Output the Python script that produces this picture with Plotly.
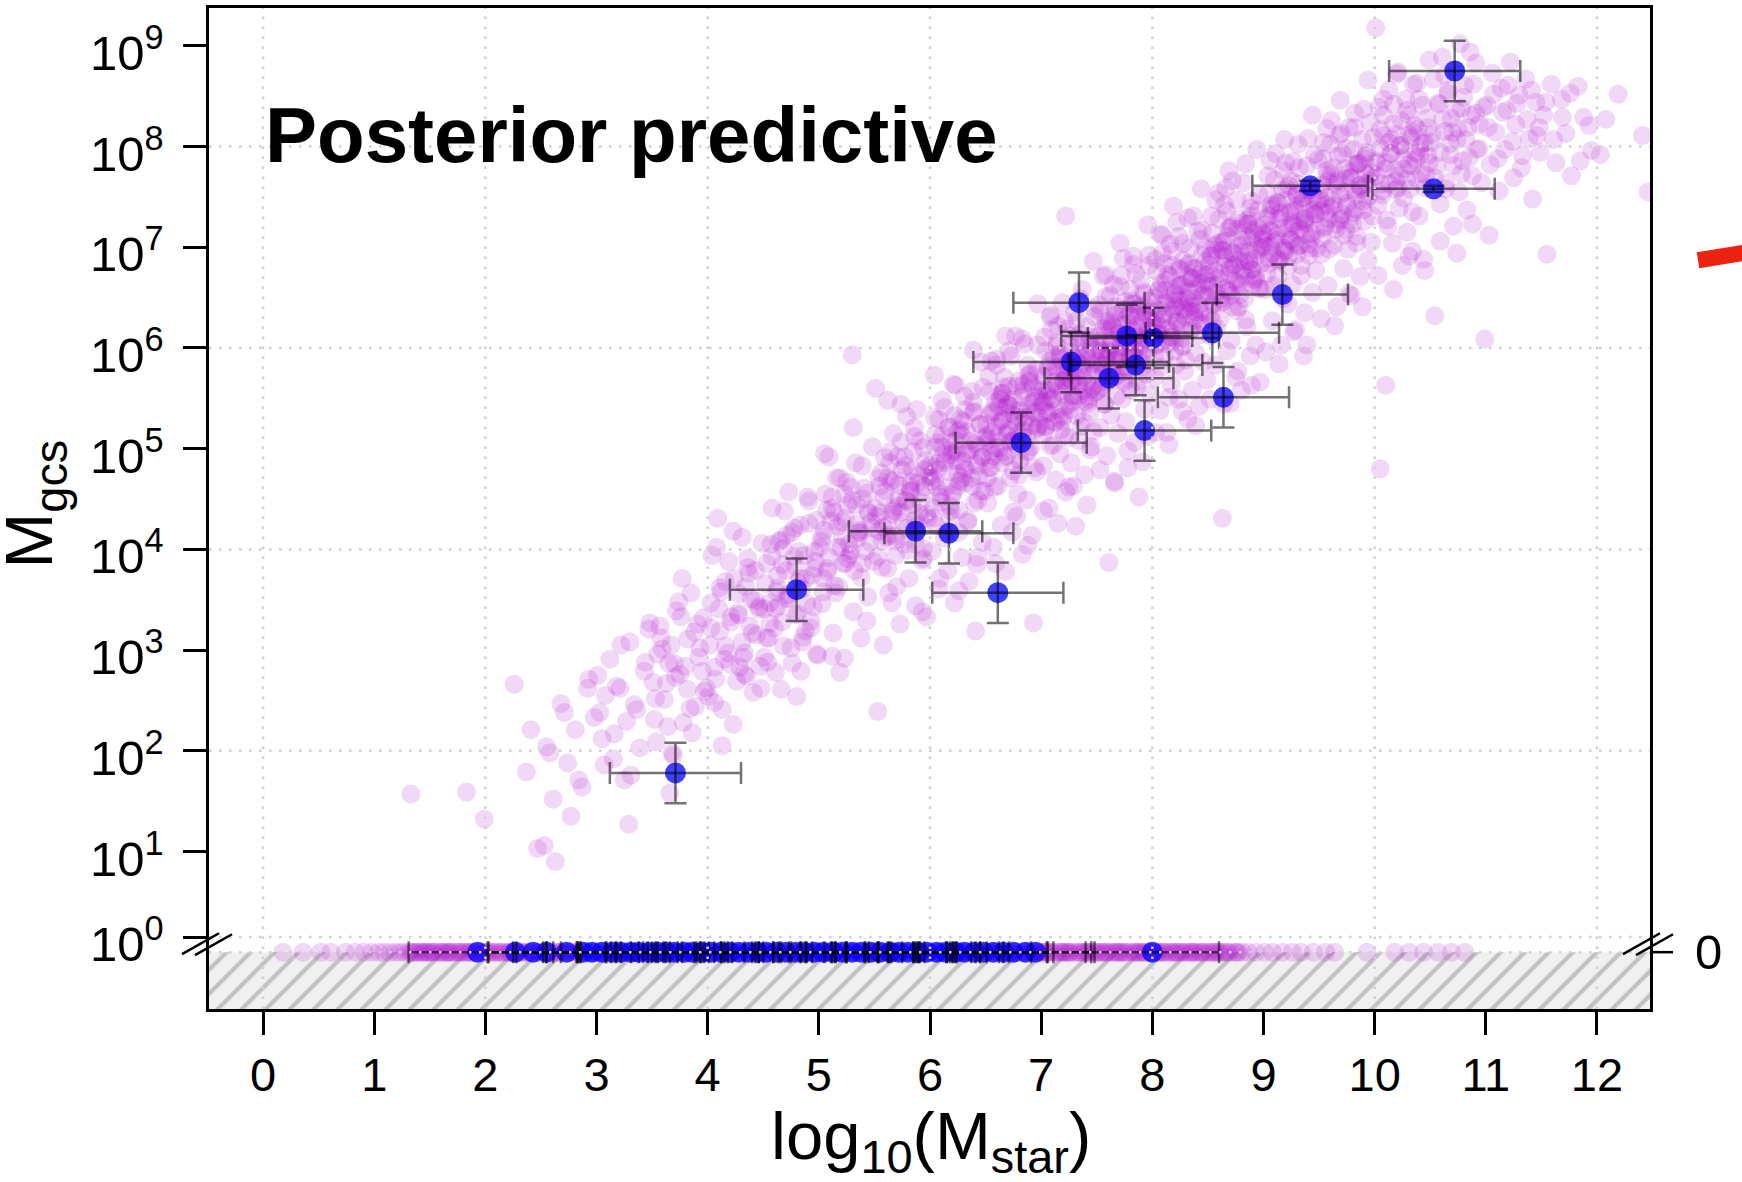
import numpy as np
import plotly.graph_objects as go

# ---------------------------------------------------------------------------
# Posterior predictive draws with M_gcs > 0  (log10 M_star, log10 M_gcs)
# ---------------------------------------------------------------------------
pp_log_mstar = [
    1.33,
    1.83, 1.99,
    2.26, 2.37, 2.47, 2.41,
    2.53, 2.63, 2.71, 2.84, 2.92, 2.58, 2.77,
    3.01, 3.08, 3.15, 3.22, 3.29, 3.36, 3.44, 3.05, 3.18, 3.31, 3.47,
    3.52, 3.58, 3.63, 3.69, 3.74, 3.80, 3.86, 3.91, 3.97, 3.55, 3.66, 3.77, 3.84, 3.93, 3.71,
    4.02, 4.06, 4.11, 4.15, 4.19, 4.23, 4.27, 4.31, 4.35, 4.39, 4.44, 4.48, 4.04, 4.13, 4.21, 4.29, 4.37, 4.46, 4.09, 4.33,
    4.51, 4.54, 4.57, 4.60, 4.63, 4.66, 4.69, 4.72, 4.75, 4.78, 4.81, 4.84, 4.87, 4.90, 4.93, 4.96, 4.99, 4.53, 4.62, 4.71, 4.80, 4.89, 4.98, 4.67, 4.85,
    5.01, 5.03, 5.06, 5.08, 5.11, 5.13, 5.16, 5.18, 5.21, 5.23, 5.26, 5.28, 5.31, 5.33, 5.36, 5.38, 5.41, 5.43, 5.46, 5.48, 5.04, 5.14, 5.24, 5.34, 5.44, 5.09, 5.19, 5.29, 5.39, 5.30,
    5.51, 5.53, 5.55, 5.57, 5.59, 5.61, 5.63, 5.65, 5.67, 5.69, 5.71, 5.73, 5.75, 5.77, 5.79, 5.81, 5.83, 5.85, 5.87, 5.89, 5.91, 5.93, 5.95, 5.97, 5.99, 5.54, 5.62, 5.70, 5.78, 5.86, 5.94, 5.58, 5.74, 5.90,
    6.01, 6.02, 6.04, 6.05, 6.07, 6.08, 6.10, 6.11, 6.13, 6.14, 6.16, 6.17, 6.19, 6.20, 6.22, 6.23, 6.25, 6.26, 6.28, 6.29, 6.31, 6.32, 6.34, 6.35, 6.37, 6.38, 6.40, 6.41, 6.43, 6.44, 6.46, 6.47, 6.49, 6.06, 6.18, 6.30, 6.42, 6.27,
    6.51, 6.52, 6.53, 6.55, 6.56, 6.57, 6.59, 6.60, 6.61, 6.63, 6.64, 6.65, 6.67, 6.68, 6.69, 6.71, 6.72, 6.73, 6.75, 6.76, 6.77, 6.79, 6.80, 6.81, 6.83, 6.84, 6.85, 6.87, 6.88, 6.89, 6.91, 6.92, 6.93, 6.95, 6.96, 6.97, 6.99, 6.54, 6.66, 6.78, 6.90, 6.70,
    7.01, 7.02, 7.03, 7.04, 7.06, 7.07, 7.08, 7.09, 7.11, 7.12, 7.13, 7.14, 7.16, 7.17, 7.18, 7.19, 7.21, 7.22, 7.23, 7.24, 7.26, 7.27, 7.28, 7.29, 7.31, 7.32, 7.33, 7.34, 7.36, 7.37, 7.38, 7.39, 7.41, 7.42, 7.43, 7.44, 7.46, 7.47, 7.48, 7.49, 7.05, 7.15, 7.25, 7.35, 7.45, 7.20,
    7.51, 7.52, 7.53, 7.54, 7.55, 7.56, 7.57, 7.58, 7.59, 7.61, 7.62, 7.63, 7.64, 7.65, 7.66, 7.67, 7.68, 7.69, 7.71, 7.72, 7.73, 7.74, 7.75, 7.76, 7.77, 7.78, 7.79, 7.81, 7.82, 7.83, 7.84, 7.85, 7.86, 7.87, 7.88, 7.89, 7.91, 7.92, 7.93, 7.94, 7.95, 7.96, 7.97, 7.98, 7.99, 7.60, 7.70, 7.80, 7.61,
    8.01, 8.02, 8.03, 8.04, 8.06, 8.07, 8.08, 8.09, 8.11, 8.12, 8.13, 8.14, 8.16, 8.17, 8.18, 8.19, 8.21, 8.22, 8.23, 8.24, 8.26, 8.27, 8.28, 8.29, 8.31, 8.32, 8.33, 8.34, 8.36, 8.37, 8.38, 8.39, 8.41, 8.42, 8.43, 8.44, 8.46, 8.47, 8.48, 8.49, 8.05, 8.15, 8.25, 8.35, 8.45, 8.20,
    8.51, 8.52, 8.53, 8.55, 8.56, 8.57, 8.59, 8.60, 8.61, 8.63, 8.64, 8.65, 8.67, 8.68, 8.69, 8.71, 8.72, 8.73, 8.75, 8.76, 8.77, 8.79, 8.80, 8.81, 8.83, 8.84, 8.85, 8.87, 8.88, 8.89, 8.91, 8.92, 8.93, 8.95, 8.96, 8.97, 8.99, 8.54, 8.66, 8.78, 8.90, 8.70, 8.63, 8.86,
    9.01, 9.02, 9.04, 9.05, 9.07, 9.08, 9.10, 9.11, 9.13, 9.14, 9.16, 9.17, 9.19, 9.20, 9.22, 9.23, 9.25, 9.26, 9.28, 9.29, 9.31, 9.32, 9.34, 9.35, 9.37, 9.38, 9.40, 9.41, 9.43, 9.44, 9.46, 9.47, 9.49, 9.06, 9.18, 9.30, 9.42, 9.12, 9.36, 9.24,
    9.51, 9.52, 9.54, 9.55, 9.57, 9.58, 9.60, 9.61, 9.63, 9.64, 9.66, 9.67, 9.69, 9.70, 9.72, 9.73, 9.75, 9.76, 9.78, 9.79, 9.81, 9.82, 9.84, 9.85, 9.87, 9.88, 9.90, 9.91, 9.93, 9.94, 9.96, 9.97, 9.99, 9.56, 9.74, 9.92,
    10.01, 10.02, 10.04, 10.05, 10.07, 10.08, 10.10, 10.11, 10.13, 10.14, 10.16, 10.17, 10.19, 10.20, 10.22, 10.23, 10.25, 10.26, 10.28, 10.29, 10.31, 10.32, 10.34, 10.35, 10.37, 10.38, 10.40, 10.41, 10.43, 10.44, 10.46, 10.48,
    10.51, 10.53, 10.54, 10.56, 10.58, 10.59, 10.61, 10.63, 10.64, 10.66, 10.68, 10.69, 10.71, 10.73, 10.74, 10.76, 10.78, 10.79, 10.81, 10.83, 10.84, 10.86, 10.88, 10.91, 10.94, 10.99,
    11.01, 11.04, 11.06, 11.09, 11.12, 11.14, 11.17, 11.19, 11.22, 11.25, 11.27, 11.30, 11.33, 11.36, 11.39, 11.42, 11.45, 11.48,
    11.52, 11.55, 11.59, 11.63, 11.68, 11.72, 11.77, 11.83, 11.88, 11.95,
    12.03, 12.08, 12.19, 12.41, 12.46,
    # denser core of the predictive band
    3.53, 3.59, 3.64, 3.70, 3.76, 3.82, 3.88, 3.95,
    4.03, 4.07, 4.12, 4.16, 4.20, 4.24, 4.28, 4.32, 4.36, 4.40, 4.43, 4.47, 4.10, 4.34,
    4.52, 4.55, 4.58, 4.61, 4.64, 4.67, 4.70, 4.73, 4.76, 4.79, 4.82, 4.85, 4.88, 4.91, 4.94, 4.97, 4.56, 4.68, 4.83, 4.95,
    5.02, 5.04, 5.07, 5.09, 5.12, 5.14, 5.17, 5.19, 5.22, 5.24, 5.27, 5.29, 5.32, 5.34, 5.37, 5.39, 5.42, 5.44, 5.47, 5.49, 5.05, 5.15, 5.25, 5.35, 5.45, 5.20,
    5.51, 5.53, 5.56, 5.58, 5.60, 5.62, 5.64, 5.66, 5.68, 5.70, 5.72, 5.74, 5.76, 5.78, 5.80, 5.82, 5.84, 5.86, 5.88, 5.90, 5.92, 5.94, 5.96, 5.98, 5.55, 5.63, 5.71, 5.79, 5.87, 5.95, 5.67, 5.83,
    6.01, 6.03, 6.05, 6.06, 6.08, 6.10, 6.12, 6.13, 6.15, 6.17, 6.19, 6.20, 6.22, 6.24, 6.26, 6.27, 6.29, 6.31, 6.33, 6.34, 6.36, 6.38, 6.40, 6.41, 6.43, 6.45, 6.47, 6.48, 6.04, 6.11, 6.18, 6.25, 6.32, 6.39, 6.46, 6.21,
    6.51, 6.52, 6.54, 6.55, 6.57, 6.58, 6.60, 6.61, 6.63, 6.64, 6.66, 6.67, 6.69, 6.70, 6.72, 6.73, 6.75, 6.76, 6.78, 6.79, 6.81, 6.82, 6.84, 6.85, 6.87, 6.88, 6.90, 6.91, 6.93, 6.94, 6.96, 6.97, 6.99, 6.53, 6.62, 6.71, 6.80, 6.89, 6.98, 6.65,
    7.01, 7.02, 7.04, 7.05, 7.06, 7.08, 7.09, 7.10, 7.12, 7.13, 7.14, 7.16, 7.17, 7.18, 7.20, 7.21, 7.22, 7.24, 7.25, 7.26, 7.28, 7.29, 7.30, 7.32, 7.33, 7.34, 7.36, 7.37, 7.38, 7.40, 7.41, 7.42, 7.44, 7.45, 7.46, 7.48, 7.49, 7.03, 7.11, 7.19, 7.27, 7.35, 7.43, 7.23,
    7.51, 7.52, 7.53, 7.55, 7.56, 7.57, 7.58, 7.60, 7.61, 7.62, 7.63, 7.65, 7.66, 7.67, 7.68, 7.70, 7.71, 7.72, 7.73, 7.75, 7.76, 7.77, 7.78, 7.80, 7.81, 7.82, 7.83, 7.85, 7.86, 7.87, 7.88, 7.90, 7.91, 7.92, 7.93, 7.95, 7.96, 7.97, 7.98, 7.54, 7.64, 7.74, 7.84, 7.94, 7.59, 7.79,
    8.01, 8.02, 8.04, 8.05, 8.06, 8.08, 8.09, 8.10, 8.12, 8.13, 8.14, 8.16, 8.17, 8.18, 8.20, 8.21, 8.22, 8.24, 8.25, 8.26, 8.28, 8.29, 8.30, 8.32, 8.33, 8.34, 8.36, 8.37, 8.38, 8.40, 8.41, 8.42, 8.44, 8.45, 8.46, 8.48, 8.49, 8.03, 8.11, 8.19, 8.27, 8.35, 8.43, 8.23,
    8.51, 8.52, 8.54, 8.55, 8.57, 8.58, 8.60, 8.61, 8.63, 8.64, 8.66, 8.67, 8.69, 8.70, 8.72, 8.73, 8.75, 8.76, 8.78, 8.79, 8.81, 8.82, 8.84, 8.85, 8.87, 8.88, 8.90, 8.91, 8.93, 8.94, 8.96, 8.97, 8.99, 8.53, 8.62, 8.71, 8.80, 8.89, 8.98, 8.65, 8.77, 8.86,
    9.01, 9.03, 9.04, 9.06, 9.07, 9.09, 9.10, 9.12, 9.13, 9.15, 9.16, 9.18, 9.19, 9.21, 9.22, 9.24, 9.25, 9.27, 9.28, 9.30, 9.31, 9.33, 9.34, 9.36, 9.37, 9.39, 9.40, 9.42, 9.43, 9.45, 9.46, 9.48, 9.49, 9.05, 9.14, 9.23, 9.32, 9.41,
    9.51, 9.53, 9.54, 9.56, 9.57, 9.59, 9.60, 9.62, 9.63, 9.65, 9.66, 9.68, 9.69, 9.71, 9.72, 9.74, 9.75, 9.77, 9.78, 9.80, 9.81, 9.83, 9.84, 9.86, 9.87, 9.89, 9.90, 9.92, 9.93, 9.95, 9.96, 9.98, 9.58, 9.82,
    10.01, 10.03, 10.05, 10.06, 10.08, 10.10, 10.12, 10.13, 10.15, 10.17, 10.19, 10.20, 10.22, 10.24, 10.26, 10.27, 10.29, 10.31, 10.33, 10.34, 10.36, 10.38, 10.40, 10.41, 10.43, 10.45, 10.47, 10.49,
    10.52, 10.54, 10.57, 10.59, 10.61, 10.64, 10.66, 10.68, 10.71, 10.73, 10.75, 10.78, 10.80, 10.82, 10.85, 10.87, 10.89, 10.92, 10.94, 10.96, 10.98, 10.70,
    11.02, 11.07, 11.11, 11.15, 11.20, 11.24, 11.28, 11.32, 11.37, 11.41, 11.46, 11.49,
    11.54, 11.61, 11.69, 11.76, 11.85, 11.93,
    # ridge of the band
    5.03, 5.08, 5.12, 5.17, 5.21, 5.26, 5.30, 5.35, 5.39, 5.44, 5.48, 5.23,
    5.52, 5.54, 5.57, 5.59, 5.62, 5.64, 5.67, 5.69, 5.72, 5.74, 5.77, 5.79, 5.82, 5.84, 5.87, 5.89, 5.92, 5.94, 5.97, 5.99,
    6.01, 6.03, 6.05, 6.07, 6.09, 6.11, 6.13, 6.15, 6.17, 6.19, 6.21, 6.23, 6.25, 6.27, 6.29, 6.31, 6.33, 6.35, 6.37, 6.39, 6.41, 6.43, 6.45, 6.47, 6.49, 6.24,
    6.51, 6.53, 6.54, 6.56, 6.57, 6.59, 6.60, 6.62, 6.63, 6.65, 6.66, 6.68, 6.69, 6.71, 6.72, 6.74, 6.75, 6.77, 6.78, 6.80, 6.81, 6.83, 6.84, 6.86, 6.87, 6.89, 6.90, 6.92, 6.93, 6.95, 6.96, 6.98,
    7.01, 7.02, 7.04, 7.05, 7.07, 7.08, 7.10, 7.11, 7.13, 7.14, 7.16, 7.17, 7.19, 7.20, 7.22, 7.23, 7.25, 7.26, 7.28, 7.29, 7.31, 7.32, 7.34, 7.35, 7.37, 7.38, 7.40, 7.41, 7.43, 7.44, 7.46, 7.47, 7.49, 7.06, 7.21, 7.36,
    7.51, 7.52, 7.54, 7.55, 7.56, 7.58, 7.59, 7.60, 7.62, 7.63, 7.64, 7.66, 7.67, 7.68, 7.70, 7.71, 7.72, 7.74, 7.75, 7.76, 7.78, 7.79, 7.80, 7.82, 7.83, 7.84, 7.86, 7.87, 7.88, 7.90, 7.91, 7.92, 7.94, 7.95, 7.96, 7.98, 7.99, 7.77,
    8.01, 8.02, 8.04, 8.05, 8.06, 8.08, 8.09, 8.10, 8.12, 8.13, 8.14, 8.16, 8.17, 8.18, 8.20, 8.21, 8.22, 8.24, 8.25, 8.26, 8.28, 8.29, 8.30, 8.32, 8.33, 8.34, 8.36, 8.37, 8.38, 8.40, 8.41, 8.42, 8.44, 8.45, 8.46, 8.48, 8.49, 8.27,
    8.51, 8.53, 8.54, 8.56, 8.57, 8.59, 8.60, 8.62, 8.63, 8.65, 8.66, 8.68, 8.69, 8.71, 8.72, 8.74, 8.75, 8.77, 8.78, 8.80, 8.81, 8.83, 8.84, 8.86, 8.87, 8.89, 8.90, 8.92, 8.93, 8.95, 8.96, 8.98, 8.99, 8.70,
    9.02, 9.03, 9.05, 9.07, 9.08, 9.10, 9.12, 9.13, 9.15, 9.17, 9.18, 9.20, 9.22, 9.23, 9.25, 9.27, 9.28, 9.30, 9.32, 9.33, 9.35, 9.37, 9.38, 9.40, 9.42, 9.43, 9.45, 9.47, 9.48, 9.26,
    9.51, 9.53, 9.55, 9.57, 9.59, 9.61, 9.63, 9.65, 9.67, 9.69, 9.71, 9.73, 9.75, 9.77, 9.79, 9.81, 9.83, 9.85, 9.87, 9.89, 9.91, 9.93, 9.95, 9.97,
    10.02, 10.05, 10.07, 10.10, 10.13, 10.15, 10.18, 10.21, 10.23, 10.26, 10.29, 10.31, 10.34, 10.37, 10.39, 10.42, 10.45, 10.48,
    # low-mass end of the band
    2.55, 2.61, 2.68, 2.74, 2.81, 2.87, 2.93, 2.98,
    3.03, 3.07, 3.12, 3.16, 3.21, 3.25, 3.30, 3.34, 3.39, 3.43, 3.48, 3.27,
    3.51, 3.54, 3.57, 3.61, 3.65, 3.68, 3.72, 3.75, 3.78, 3.82, 3.85, 3.89, 3.92, 3.96, 3.99, 3.67,
    4.01, 4.03, 4.06, 4.08, 4.11, 4.13, 4.16, 4.18, 4.21, 4.23, 4.26, 4.28, 4.31, 4.33, 4.36, 4.38, 4.41, 4.43, 4.46, 4.49,
    4.51, 4.53, 4.56, 4.58, 4.61, 4.63, 4.66, 4.68, 4.71, 4.73, 4.76, 4.78, 4.81, 4.83, 4.86, 4.88, 4.91, 4.93, 4.96, 4.98, 4.64, 4.79,
    # upper and lower flanks of the band
    5.05, 5.31, 5.62, 5.88, 6.04, 6.21, 6.39, 6.55, 6.68, 6.83, 6.97, 7.08, 7.22, 7.35, 7.47, 7.58, 7.71, 7.83, 7.96, 8.07,
    8.19, 8.32, 8.44, 8.57, 8.69, 8.82, 8.94, 9.06, 9.19, 9.31, 9.44, 9.57, 9.69, 9.82, 9.94, 10.08, 10.21, 10.35, 10.49, 10.63,
    10.77, 10.91,
    5.12, 5.38, 5.66, 5.93, 6.09, 6.26, 6.43, 6.59, 6.74, 6.88, 7.02, 7.15, 7.29, 7.41, 7.53, 7.66, 7.78, 7.91, 8.03, 8.15,
    8.27, 8.39, 8.52, 8.64, 8.77, 8.89, 9.02, 9.14, 9.27, 9.39, 9.52, 9.64, 9.77, 9.89, 10.03, 10.17, 10.31, 10.45, 10.59, 10.74,
    10.88, 11.03,
]
pp_log_mgcs = [
    1.57,
    1.59, 1.32,
    2.66, 1.79, 1.03, 2.21,
    1.06, 0.90, 2.38, 1.71, 2.62, 1.98, 1.35,
    2.75, 2.55, 1.92, 3.05, 1.27, 2.41, 2.88, 2.12, 2.64, 1.76, 3.21,
    2.31, 3.12, 2.67, 1.95, 3.48, 2.84, 2.18, 3.26, 2.59, 2.96, 1.58, 3.71, 2.42, 3.02, 2.73,
    3.05, 2.48, 3.62, 2.91, 3.88, 2.26, 3.37, 4.12, 2.74, 3.51, 3.15, 2.62, 3.94, 2.05, 3.28, 2.83, 3.76, 3.43, 4.31, 2.97,
    3.41, 2.88, 4.05, 3.22, 3.74, 2.61, 4.38, 3.55, 3.02, 4.21, 3.67, 2.79, 3.94, 4.52, 3.29, 3.81, 2.95, 3.12, 3.58, 4.14, 2.54, 3.46, 4.29, 3.85, 3.08,
    4.02, 3.46, 4.55, 3.81, 4.28, 3.17, 4.71, 3.63, 4.13, 2.92, 4.44, 3.95, 3.38, 4.86, 4.19, 3.72, 4.61, 3.29, 4.07, 5.02, 3.58, 4.37, 3.86, 4.25, 3.53, 4.92, 2.78, 3.99, 4.50, 5.93,
    5.60, 2.39, 4.36, 3.82, 4.91, 4.12, 3.57, 4.68, 5.15, 3.94, 4.43, 3.26, 4.79, 4.05, 5.32, 3.71, 4.58, 4.97, 3.44, 4.24, 5.08, 3.89, 4.62, 3.33, 4.83, 4.18, 4.71, 3.63, 4.49, 5.21, 4.01, 3.05, 5.44, 4.36,
    4.72, 3.98, 5.31, 4.24, 5.06, 3.61, 4.55, 5.48, 4.11, 4.89, 3.79, 5.22, 4.38, 4.96, 3.47, 5.63, 4.63, 4.17, 5.14, 3.92, 4.81, 5.39, 4.29, 3.68, 4.99, 5.57, 4.46, 3.19, 5.02, 4.73, 5.86, 4.07, 4.58, 4.85, 4.32, 5.27, 3.85, 4.68,
    5.13, 4.46, 5.72, 4.81, 5.38, 4.02, 5.01, 5.89, 4.63, 5.27, 4.24, 5.55, 4.92, 3.78, 5.16, 5.97, 4.71, 5.42, 4.37, 5.08, 6.12, 4.55, 5.31, 4.86, 3.95, 5.64, 5.19, 4.49, 5.83, 4.98, 5.36, 4.14, 3.27, 5.51, 4.77, 6.03, 5.24, 4.89, 5.61, 4.33, 5.75, 5.44,
    5.47, 4.83, 6.11, 5.22, 5.79, 4.41, 5.58, 6.33, 5.04, 5.66, 4.69, 6.02, 5.31, 4.95, 5.88, 6.45, 5.13, 4.57, 5.71, 6.19, 5.39, 4.86, 5.96, 5.52, 4.23, 6.27, 5.63, 5.08, 5.84, 6.58, 5.27, 4.74, 5.93, 5.45, 6.08, 4.99, 5.74, 5.17, 6.39, 5.56, 5.35, 6.22, 4.62, 5.91, 5.02, 5.68,
    5.86, 6.43, 5.21, 6.07, 5.62, 6.71, 5.44, 6.18, 4.93, 5.97, 6.52, 5.33, 6.24, 5.71, 4.68, 6.36, 5.88, 5.15, 6.61, 6.02, 5.49, 6.89, 5.76, 5.27, 6.29, 4.81, 6.13, 5.58, 6.47, 5.93, 5.06, 6.74, 6.21, 5.67, 4.52, 6.05, 5.81, 6.56, 5.39, 6.33, 5.99, 5.12, 6.82, 5.54, 6.16, 5.73, 6.09, 5.91, 3.87,
    6.32, 5.71, 6.88, 6.04, 6.57, 5.38, 6.21, 7.12, 5.92, 6.45, 5.16, 6.73, 6.11, 5.64, 6.96, 6.38, 5.83, 7.25, 6.26, 5.49, 6.62, 6.01, 7.04, 5.77, 6.49, 5.29, 6.84, 6.17, 5.58, 7.31, 6.36, 5.95, 6.69, 5.42, 7.08, 6.24, 5.86, 6.53, 6.99, 5.68, 6.14, 5.51, 6.79, 6.41, 7.17, 6.06,
    6.74, 6.12, 7.31, 6.45, 7.02, 5.83, 6.63, 7.54, 6.29, 4.31, 6.91, 7.42, 5.97, 6.56, 7.19, 6.08, 7.66, 6.82, 5.71, 6.37, 7.28, 6.95, 5.58, 7.07, 6.49, 7.83, 6.21, 6.86, 5.92, 7.46, 6.68, 7.14, 6.03, 7.37, 6.59, 5.66, 7.01, 6.27, 7.59, 6.41, 6.78, 5.45, 6.97, 7.23,
    7.13, 6.58, 7.71, 6.89, 7.42, 6.27, 7.05, 7.93, 6.71, 7.28, 6.03, 7.57, 6.96, 7.84, 6.44, 7.19, 7.66, 6.63, 7.36, 6.18, 7.01, 7.79, 6.82, 7.49, 6.35, 7.24, 8.08, 6.92, 7.61, 6.55, 7.33, 6.77, 7.87, 7.17, 6.49, 7.53, 6.99, 7.45, 5.92, 7.08,
    7.48, 6.93, 8.04, 7.21, 7.76, 6.62, 7.39, 8.26, 7.02, 7.64, 6.41, 7.91, 7.27, 8.13, 6.79, 7.55, 7.98, 6.98, 7.69, 6.52, 7.34, 8.19, 7.11, 7.83, 6.71, 7.58, 8.37, 7.26, 7.94, 6.87, 7.66, 7.05, 8.09, 7.42, 7.17, 7.73,
    9.18, 7.84, 8.39, 4.80, 7.52, 8.11, 5.63, 7.27, 8.56, 7.93, 7.04, 8.23, 7.66, 8.72, 7.39, 8.01, 6.82, 7.78, 8.47, 7.15, 8.31, 7.58, 6.96, 8.14, 7.87, 8.63, 7.31, 7.99, 8.41, 6.88, 7.72, 8.19,
    8.04, 8.67, 6.32, 7.81, 8.42, 7.43, 8.89, 8.15, 7.64, 8.53, 7.92, 8.28, 7.21, 8.76, 8.07, 7.55, 8.38, 7.86, 8.61, 7.37, 8.19, 8.94, 7.71, 8.33, 7.98, 6.09,
    8.41, 7.82, 8.73, 8.14, 7.56, 8.58, 7.97, 8.36, 8.84, 7.69, 8.22, 8.51, 7.91, 8.67, 8.08, 7.48, 8.44, 8.19,
    8.31, 6.93, 8.62, 7.84, 8.47, 8.13, 7.71, 8.60, 8.29, 7.96,
    7.92, 8.27, 8.52, 8.11, 7.55,
    # denser core of the predictive band
    2.52, 3.01, 2.24, 2.87, 3.33, 2.61, 3.18, 2.79,
    3.22, 2.71, 3.58, 3.04, 2.86, 3.71, 3.35, 2.93, 3.82, 3.17, 3.49, 2.84, 3.41, 3.63,
    3.66, 3.12, 3.93, 3.41, 4.08, 3.28, 3.79, 3.52, 4.17, 3.35, 3.98, 3.61, 3.19, 4.26, 3.74, 3.88, 3.47, 4.01, 3.71, 3.43,
    4.08, 3.71, 4.39, 3.92, 4.52, 3.64, 4.23, 4.71, 3.86, 4.31, 4.05, 4.62, 3.79, 4.44, 4.17, 4.83, 3.98, 4.56, 4.27, 3.88, 4.19, 3.57, 4.67, 4.11, 4.36, 4.02,
    4.41, 3.93, 4.76, 4.22, 4.58, 3.81, 4.97, 4.35, 4.69, 4.08, 4.51, 5.07, 4.27, 4.83, 3.99, 4.62, 4.44, 5.12, 4.19, 4.73, 4.56, 3.91, 4.88, 4.31, 4.63, 4.14, 4.92, 4.48, 4.05, 4.79, 4.38, 4.67,
    4.83, 4.31, 5.14, 4.62, 5.29, 4.47, 4.95, 5.41, 4.18, 4.77, 5.06, 4.54, 5.33, 4.88, 4.39, 5.19, 4.71, 5.52, 4.96, 4.27, 5.08, 4.63, 5.37, 4.85, 4.49, 5.24, 4.92, 5.61, 4.69, 5.02, 4.43, 5.17, 4.79, 5.46, 4.58, 4.99,
    5.24, 4.71, 5.57, 4.98, 5.36, 4.62, 5.83, 5.11, 5.49, 4.86, 5.28, 5.71, 4.93, 5.44, 5.07, 5.92, 4.78, 5.33, 5.62, 5.15, 4.89, 5.51, 5.26, 6.04, 4.97, 5.39, 5.68, 5.02, 5.47, 4.81, 5.79, 5.21, 5.58, 5.09, 5.42, 5.18, 4.74, 5.66, 5.31, 5.55,
    5.62, 5.14, 5.97, 5.38, 5.81, 5.03, 6.18, 5.49, 5.74, 5.26, 6.05, 5.57, 5.91, 5.19, 5.68, 6.27, 5.42, 5.86, 5.11, 6.12, 5.53, 5.79, 6.36, 5.33, 5.96, 5.64, 5.22, 6.08, 5.71, 5.47, 6.21, 5.88, 5.36, 6.01, 5.59, 6.31, 5.77, 5.46, 5.93, 5.28, 5.69, 6.14, 5.52, 5.83,
    6.02, 5.58, 6.36, 5.83, 6.19, 5.44, 6.51, 5.96, 6.27, 5.71, 6.08, 6.63, 5.87, 6.41, 5.52, 6.14, 5.92, 6.72, 6.23, 5.66, 6.46, 6.05, 5.79, 6.58, 6.31, 5.91, 6.83, 6.12, 5.61, 6.39, 6.01, 6.67, 5.85, 6.29, 6.54, 5.74, 6.17, 6.92, 6.37, 5.97, 6.22, 5.68, 6.44, 6.09, 5.89, 6.33,
    6.41, 5.93, 6.76, 6.22, 6.58, 5.81, 6.94, 6.33, 6.67, 6.04, 6.49, 7.03, 6.15, 6.82, 5.97, 6.55, 6.28, 7.11, 6.62, 6.09, 6.87, 6.38, 5.88, 6.71, 6.46, 6.99, 6.19, 6.79, 6.31, 6.57, 7.16, 6.13, 6.64, 6.92, 6.25, 6.73, 6.51, 6.26, 6.84, 6.47, 6.02, 6.69, 6.36, 6.61,
    6.83, 6.31, 7.14, 6.62, 6.97, 6.19, 7.28, 6.74, 7.05, 6.46, 6.88, 7.36, 6.57, 7.19, 6.41, 6.94, 6.68, 7.47, 7.01, 6.53, 7.24, 6.79, 6.28, 7.11, 6.86, 7.39, 6.63, 7.17, 6.71, 6.97, 7.52, 6.59, 7.08, 6.91, 6.45, 7.21, 6.77, 7.31, 6.99, 7.06, 6.64, 7.27,
    7.22, 6.74, 7.53, 7.01, 7.38, 6.62, 7.67, 7.12, 7.44, 6.88, 7.29, 7.76, 6.97, 7.58, 6.81, 7.34, 7.07, 7.85, 7.41, 6.93, 7.63, 7.19, 6.72, 7.49, 7.26, 7.81, 7.03, 7.57, 7.14, 7.37, 7.92, 6.99, 7.46, 7.31, 6.86, 7.61, 7.17, 7.43,
    7.57, 7.09, 7.88, 7.34, 7.71, 6.98, 8.02, 7.46, 7.79, 7.18, 7.62, 8.11, 7.29, 7.93, 7.12, 7.68, 7.41, 8.19, 7.75, 7.23, 7.97, 7.52, 7.04, 7.84, 7.61, 8.07, 7.37, 7.91, 7.48, 7.72, 8.24, 7.31, 7.66, 7.82,
    7.86, 7.42, 8.17, 7.63, 8.31, 7.78, 7.21, 8.04, 7.93, 8.42, 7.57, 8.12, 7.71, 8.26, 7.49, 7.97, 8.36, 7.82, 8.09, 7.35, 8.21, 7.68, 8.47, 7.91, 8.03, 7.59, 8.28, 7.84,
    8.12, 7.69, 8.43, 7.94, 8.27, 7.58, 8.56, 8.03, 7.81, 8.36, 8.18, 7.73, 8.49, 8.07, 7.89, 8.31, 8.62, 7.97, 8.22, 7.64, 8.39, 8.14,
    8.19, 8.52, 7.88, 8.34, 8.61, 8.05, 8.43, 7.79, 8.27, 8.56, 8.11, 7.94,
    8.44, 8.07, 8.29, 8.53, 7.86, 8.21,
    # ridge of the band
    4.12, 3.78, 4.41, 4.02, 4.27, 3.91, 4.49, 4.16, 3.86, 4.38, 4.21, 4.55,
    4.33, 4.71, 4.08, 4.52, 4.24, 4.86, 4.41, 4.13, 4.64, 4.37, 4.92, 4.21, 4.58, 4.79, 4.29, 4.66, 4.47, 5.01, 4.35, 4.73,
    4.68, 4.41, 5.02, 4.79, 4.52, 5.13, 4.86, 4.62, 5.21, 4.94, 4.57, 5.08, 4.75, 5.29, 4.88, 4.66, 5.17, 4.99, 4.71, 5.36, 5.05, 4.83, 5.24, 4.92, 5.11, 4.97,
    5.07, 4.81, 5.34, 5.16, 4.93, 5.46, 5.22, 5.01, 5.53, 5.29, 4.97, 5.41, 5.13, 5.62, 5.35, 5.08, 5.49, 5.26, 5.04, 5.67, 5.38, 5.18, 5.57, 5.31, 5.11, 5.73, 5.44, 5.23, 5.61, 5.36, 5.19, 5.52,
    5.43, 5.72, 5.21, 5.58, 5.36, 5.87, 5.49, 5.27, 5.81, 5.63, 5.39, 5.94, 5.55, 5.32, 5.77, 5.61, 5.44, 6.02, 5.68, 5.47, 5.89, 5.71, 5.52, 6.07, 5.79, 5.58, 5.96, 5.66, 5.49, 6.11, 5.84, 5.62, 5.97, 5.51, 5.74, 5.83,
    5.83, 6.12, 5.61, 5.97, 5.74, 6.26, 5.89, 5.67, 6.19, 6.03, 5.79, 6.33, 5.94, 5.72, 6.15, 6.01, 5.86, 6.38, 6.08, 5.81, 6.24, 6.06, 5.91, 6.44, 6.17, 5.98, 6.31, 6.11, 5.88, 6.41, 6.22, 6.04, 6.36, 6.14, 5.96, 6.47, 6.27, 6.00,
    6.22, 6.51, 6.03, 6.38, 6.14, 6.64, 6.29, 6.07, 6.57, 6.41, 6.19, 6.71, 6.33, 6.11, 6.53, 6.42, 6.26, 6.78, 6.47, 6.21, 6.63, 6.45, 6.31, 6.82, 6.56, 6.37, 6.69, 6.49, 6.28, 6.79, 6.61, 6.43, 6.74, 6.52, 6.36, 6.86, 6.66, 6.40,
    6.61, 6.92, 6.43, 6.77, 6.55, 7.04, 6.69, 6.48, 6.97, 6.81, 6.59, 7.11, 6.73, 6.52, 6.94, 6.83, 6.66, 7.18, 6.87, 6.62, 7.02, 6.85, 6.71, 7.23, 6.96, 6.78, 7.09, 6.89, 6.68, 7.19, 7.01, 6.84, 7.14, 6.79,
    7.01, 7.29, 6.84, 7.16, 6.94, 7.41, 7.07, 6.88, 7.34, 7.19, 6.99, 7.47, 7.11, 6.92, 7.36, 7.22, 7.04, 7.52, 7.26, 7.02, 7.44, 7.28, 7.13, 7.57, 7.31, 7.09, 7.49, 7.33, 7.17, 7.24,
    7.36, 7.62, 7.19, 7.49, 7.28, 7.73, 7.41, 7.23, 7.66, 7.52, 7.33, 7.78, 7.44, 7.27, 7.69, 7.57, 7.38, 7.83, 7.61, 7.46, 7.88, 7.63, 7.51, 7.74,
    7.71, 7.98, 7.56, 7.84, 7.63, 8.07, 7.77, 7.59, 8.01, 7.88, 7.67, 8.12, 7.81, 7.94, 8.17, 7.73, 8.04, 7.91,
    # low-mass end of the band
    2.04, 1.52, 2.47, 1.88, 2.21, 1.64, 2.71, 2.33,
    2.38, 1.86, 2.91, 2.17, 2.62, 1.71, 3.08, 2.46, 2.03, 2.79, 3.27, 2.29,
    2.68, 2.09, 3.24, 2.51, 2.87, 1.98, 3.39, 2.76, 2.28, 3.11, 3.57, 2.44, 2.93, 3.32, 2.62, 3.05,
    2.54, 3.47, 2.83, 4.02, 3.19, 2.41, 3.68, 2.97, 3.33, 4.18, 2.69, 3.56, 3.08, 2.76, 3.91, 3.24, 2.58, 3.79, 3.41, 4.06,
    2.93, 3.86, 3.27, 4.41, 2.78, 3.62, 4.09, 3.04, 3.51, 4.57, 2.87, 3.93, 3.36, 4.24, 3.13, 3.71, 4.48, 3.22, 3.98, 2.96, 3.44, 3.83,
    # upper and lower flanks of the band
    4.95, 5.21, 5.48, 5.39, 5.73, 5.64, 5.98, 5.87, 6.12, 6.09, 6.44, 6.31, 7.31, 6.49, 6.86, 6.73, 7.04, 6.91, 7.22, 7.13,
    7.41, 7.29, 7.58, 7.47, 7.76, 7.64, 7.97, 7.86, 8.07, 8.02, 8.31, 8.18, 8.46, 8.33, 8.66, 8.47, 8.74, 8.62, 8.86, 8.71,
    9.02, 8.83,
    2.94, 3.12, 3.47, 3.38, 3.71, 3.59, 3.92, 3.86, 4.17, 4.04, 4.38, 4.26, 4.63, 4.44, 4.79, 4.66, 4.98, 4.87, 5.16, 5.04,
    5.37, 5.23, 5.49, 5.44, 5.77, 5.63, 5.96, 5.84, 6.16, 6.03, 6.29, 6.22, 6.54, 6.41, 6.72, 6.58, 6.91, 6.77, 7.06, 6.94,
    7.23, 7.12,
]

# Posterior predictive draws with M_gcs = 0 (only log10 M_star)
pp_zero_log_mstar = [
    0.18, 0.36, 0.52, 0.61, 0.74, 0.83, 0.91, 0.98, 1.04, 1.09, 1.14, 1.19, 1.23, 1.27,
    1.31, 1.36, 1.38, 1.44, 1.47, 1.53, 1.55, 1.61, 1.66, 1.68, 1.74, 1.77, 1.83, 1.85, 1.92, 1.95,
    1.99, 2.06, 2.08, 2.13, 2.19, 2.21, 2.27, 2.30, 2.36, 2.41, 2.43, 2.49, 2.52, 2.58, 2.63, 2.65,
    2.71, 2.75, 2.79, 2.86, 2.88, 2.93, 2.99, 3.01, 3.07, 3.10, 3.15, 3.21, 3.23, 3.29, 3.33, 3.36,
    3.42, 3.46, 3.51, 3.53, 3.59, 3.64, 3.66, 3.72, 3.75, 3.81, 3.83, 3.89, 3.94, 3.96, 4.02, 4.05,
    4.11, 4.16, 4.18, 4.24, 4.27, 4.33, 4.38, 4.40, 4.46, 4.49, 4.55, 4.60, 4.62, 4.68, 4.71, 4.77,
    4.82, 4.84, 4.90, 4.93, 4.99, 5.04, 5.06, 5.12, 5.15, 5.21, 5.26, 5.28, 5.34, 5.37, 5.43, 5.48,
    5.50, 5.56, 5.59, 5.65, 5.70, 5.72, 5.78, 5.81, 5.87, 5.92, 5.94, 6.00, 6.03, 6.09, 6.14, 6.16,
    6.22, 6.25, 6.31, 6.36, 6.38, 6.44, 6.47, 6.53, 6.58, 6.60, 6.66, 6.69, 6.75, 6.80, 6.82, 6.88,
    6.91, 6.97, 7.02, 7.04, 7.10, 7.13, 7.19, 7.24, 7.26, 7.32, 7.35, 7.41, 7.46, 7.48, 7.54, 7.57,
    7.63, 7.68, 7.70, 7.76, 7.79, 7.85, 7.90, 7.92, 7.98, 8.01, 8.07, 8.12, 8.14, 8.20, 8.23, 8.29,
    8.34, 8.37, 8.43, 8.48, 8.55, 8.61, 8.66, 8.74, 8.81,
    8.86, 8.93, 9.01, 9.08, 9.17, 9.26, 9.34, 9.45, 9.56, 9.64, 9.93, 10.18, 10.31, 10.44, 10.57,
    10.69, 10.81,
    1.33, 1.40, 1.42, 1.50, 1.58, 1.63, 1.71, 1.79, 1.88, 1.90, 2.02, 2.10, 2.16, 2.24, 2.33, 2.38,
    2.46, 2.55, 2.60, 2.68, 2.73, 2.82, 2.90, 2.96, 3.04, 3.12, 3.18, 3.26, 3.31, 3.39, 3.44, 3.49,
    3.56, 3.62, 3.69, 3.78, 3.86, 3.91, 3.99, 4.08, 4.13, 4.21, 4.30, 4.35, 4.43, 4.52, 4.57, 4.65,
    4.74, 4.79, 4.87, 4.96, 5.01, 5.09, 5.18, 5.23, 5.31, 5.40, 5.45, 5.53, 5.62, 5.67, 5.75, 5.84,
    5.89, 5.97, 6.06, 6.11, 6.19, 6.28, 6.33, 6.41, 6.50, 6.55, 6.63, 6.72, 6.77, 6.85, 6.94, 6.99,
    7.07, 7.16, 7.21, 7.29, 7.38, 7.43, 7.51, 7.60, 7.65, 7.73, 7.82, 7.87, 7.95, 8.04, 8.09, 8.17,
    8.26, 8.31, 8.40, 8.46, 8.52, 8.58, 8.64, 8.70, 8.77,
    1.35, 1.45, 1.52, 1.60, 1.69, 1.76, 1.86, 1.97, 2.04, 2.14, 2.22, 2.31, 2.40, 2.48, 2.56, 2.66,
    2.77, 2.84, 2.95, 3.03, 3.13, 3.19, 3.27, 3.37, 3.45, 3.55, 3.61, 3.70, 3.79, 3.87, 3.97, 4.04,
    4.14, 4.22, 4.31, 4.39, 4.47, 4.56, 4.64, 4.72, 4.81, 4.89, 4.97, 5.07, 5.14, 5.24, 5.32, 5.41,
    5.49, 5.57, 5.66, 5.74, 5.83, 5.91, 5.99, 6.08, 6.17, 6.24, 6.34, 6.42, 6.51, 6.59, 6.67, 6.76,
    6.84, 6.92, 7.01, 7.09, 7.18, 7.25, 7.34, 7.42, 7.50, 7.59, 7.67, 7.75, 7.84, 7.93, 8.00, 8.10,
    8.18, 8.27, 8.35, 8.44, 8.51, 8.60, 8.68, 8.76, 7.05, 7.22, 7.39, 7.55, 7.71, 7.88, 8.05, 8.22,
    8.38, 8.56, 1.48, 1.65, 1.81, 2.00,
]

# ---------------------------------------------------------------------------
# Observed galaxies with a measured GC system mass
# ---------------------------------------------------------------------------
obs_log_mstar = [10.72, 9.42, 10.53, 7.34, 9.17, 7.77, 8.01, 8.54, 7.27, 7.85,
                 7.61, 8.64, 7.93, 6.82, 5.87, 6.17, 4.80, 6.61, 3.71]
obs_log_mstar_err = [0.59, 0.52, 0.55, 0.59, 0.59, 0.59, 0.59, 0.60, 0.88, 0.60,
                     0.58, 0.59, 0.60, 0.59, 0.60, 0.58, 0.60, 0.59, 0.59]
obs_log_mgcs = [8.75, 7.61, 7.58, 6.45, 6.53, 6.12, 6.10, 6.15, 5.86, 5.83,
                5.70, 5.51, 5.18, 5.06, 4.18, 4.16, 3.60, 3.57, 1.78]
obs_log_mgcs_err = [0.30, 0.05, 0.03, 0.30, 0.30, 0.31, 0.30, 0.30, 0.30, 0.30,
                    0.30, 0.30, 0.30, 0.30, 0.31, 0.30, 0.31, 0.30, 0.30]

# Observed galaxies with no globular clusters (M_gcs = 0)
obs0_log_mstar = [1.93, 2.27, 2.43, 2.55, 2.73, 2.88, 2.96, 3.05, 3.14, 3.22,
                  3.31, 3.38, 3.47, 3.55, 3.63, 3.70, 3.79, 3.86, 3.95, 4.03,
                  4.12, 4.20, 4.28, 4.37, 4.45, 4.53, 4.62, 4.70, 4.79, 4.87,
                  4.96, 5.04, 5.13, 5.21, 5.30, 5.38, 5.47, 5.55, 5.64, 5.72,
                  5.80, 5.89, 5.97, 6.06, 6.14, 6.23, 6.31, 6.40, 6.48, 6.57,
                  6.66, 6.75, 6.86, 6.95, 8.00]
obs0_log_mstar_err = [0.62, 0.25, 0.40, 0.30, 0.45, 0.20, 0.35, 0.50, 0.28, 0.40,
                      0.22, 0.55, 0.30, 0.42, 0.25, 0.48, 0.33, 0.20, 0.45, 0.30,
                      0.52, 0.26, 0.38, 0.22, 0.44, 0.31, 0.50, 0.24, 0.36, 0.28,
                      0.46, 0.21, 0.40, 0.33, 0.55, 0.27, 0.42, 0.30, 0.23, 0.48,
                      0.35, 0.26, 0.44, 0.31, 0.52, 0.28, 0.40, 0.22, 0.58, 0.34,
                      0.45, 0.30, 0.62, 0.50, 0.60]

x_tick_values = list(range(0, 13))
y_tick_exponents = list(range(0, 10))

# ---------------------------------------------------------------------------
# Layout constants (pixels of the 1742 x 1182 canvas)
# ---------------------------------------------------------------------------
W, H = 1742, 1182
PLOT_L, PLOT_R, PLOT_T, PLOT_B = 209, 1650, 5, 1009
X_RANGE = [-0.486, 12.477]
Y_RANGE_LOG = [-0.564, 9.376]          # log10 range of the y axis
ZERO_LEVEL = 1.0                        # where M_gcs = 0 entries sit (axis break)
ONE_TICK_LOG = 0.15                     # "10^0" label nudged above the break
FONT = "Liberation Sans, Arial, Helvetica, sans-serif"
TICK_FONT_SIZE = 47
YTICK_FONT_SIZE = 49

PINK = "rgba(178,20,205,0.165)"
BLUE = "rgba(0,0,255,0.75)"
ERR = "rgba(0,0,0,0.55)"
GRID = "rgb(208,208,208)"
CLEAR = "rgba(0,0,0,0)"


def px_to_paper(px, py):
    return ((px - PLOT_L) / (PLOT_R - PLOT_L), (PLOT_B - py) / (PLOT_B - PLOT_T))


y_bottom = 10 ** Y_RANGE_LOG[0]
y_top = 10 ** Y_RANGE_LOG[1]
one_tick = 10 ** ONE_TICK_LOG

fig = go.Figure()

# hatched band below the axis break (the M_gcs = 0 row)
fig.add_trace(go.Scatter(
    x=[X_RANGE[0], X_RANGE[1], X_RANGE[1], X_RANGE[0], X_RANGE[0]],
    y=[y_bottom, y_bottom, ZERO_LEVEL, ZERO_LEVEL, y_bottom],
    mode="lines", fill="toself", line=dict(width=0),
    fillpattern=dict(shape="/", bgcolor="#f0f0f0", fgcolor="#c2c2c2",
                     size=17, solidity=0.25, fillmode="replace"),
    hoverinfo="skip", showlegend=False,
))

# posterior predictive cloud
fig.add_trace(go.Scatter(
    x=pp_log_mstar, y=10 ** np.array(pp_log_mgcs),
    mode="markers", marker=dict(size=19, color=PINK, line=dict(width=0)),
    hoverinfo="skip", showlegend=False,
))
fig.add_trace(go.Scatter(
    x=pp_zero_log_mstar, y=[ZERO_LEVEL] * len(pp_zero_log_mstar),
    mode="markers", marker=dict(size=19, color=PINK, line=dict(width=0)),
    hoverinfo="skip", showlegend=False,
))

# observed galaxies: points first, error bars drawn over them
obs_m = 10 ** np.array(obs_log_mgcs)
obs_e = np.array(obs_log_mgcs_err)
zero_y = [ZERO_LEVEL] * len(obs0_log_mstar)

fig.add_trace(go.Scatter(
    x=obs0_log_mstar, y=zero_y, mode="markers",
    marker=dict(size=21, color=BLUE, line=dict(width=0)),
    hoverinfo="skip", showlegend=False,
))
fig.add_trace(go.Scatter(
    x=obs_log_mstar, y=obs_m, mode="markers",
    marker=dict(size=21, color=BLUE, line=dict(width=0)),
    hoverinfo="skip", showlegend=False,
))
fig.add_trace(go.Scatter(
    x=obs0_log_mstar, y=zero_y, mode="markers",
    marker=dict(size=1, color=CLEAR),
    error_x=dict(type="data", array=obs0_log_mstar_err, color=ERR,
                 thickness=2.5, width=11),
    hoverinfo="skip", showlegend=False,
))
fig.add_trace(go.Scatter(
    x=obs_log_mstar, y=obs_m, mode="markers",
    marker=dict(size=1, color=CLEAR),
    error_x=dict(type="data", array=obs_log_mstar_err, color=ERR,
                 thickness=2.5, width=11),
    error_y=dict(type="data", symmetric=False,
                 array=obs_m * (10 ** obs_e - 1),
                 arrayminus=obs_m * (1 - 10 ** (-obs_e)),
                 color=ERR, thickness=2.5, width=11),
    hoverinfo="skip", showlegend=False,
))

# dotted grid drawn over the points
gx, gy = [], []
for xv in range(0, 13, 2):
    gx += [xv, xv, None]
    gy += [y_bottom, y_top, None]
fig.add_trace(go.Scatter(x=gx, y=gy, mode="lines",
                         line=dict(color=GRID, width=2.5, dash="2.5px,7.5px"),
                         hoverinfo="skip", showlegend=False))
hx, hy = [], []
for yv in [ZERO_LEVEL, one_tick, 1e2, 1e4, 1e6, 1e8]:
    hx += [X_RANGE[0], X_RANGE[1], None]
    hy += [yv, yv, None]
fig.add_trace(go.Scatter(x=hx, y=hy, mode="lines",
                         line=dict(color=GRID, width=2.5, dash="2.5px,7.5px"),
                         hoverinfo="skip", showlegend=False))

axis_common = dict(
    ticks="outside", ticklen=23, tickwidth=2.5, tickcolor="black",
    showgrid=False, zeroline=False,
    showline=True, mirror=True, linewidth=2.5, linecolor="black",
)

y_tickvals = [one_tick] + [10.0 ** k for k in y_tick_exponents[1:]]

fig.update_layout(
    width=W, height=H,
    margin=dict(l=PLOT_L, r=W - PLOT_R, t=PLOT_T, b=H - PLOT_B, pad=0),
    paper_bgcolor="white", plot_bgcolor="white",
    hovermode=False, showlegend=False,
    font=dict(family=FONT, color="black"),
    xaxis=dict(range=X_RANGE, tickvals=x_tick_values,
               tickfont=dict(family=FONT, size=TICK_FONT_SIZE, color="black"),
               **axis_common),
    yaxis=dict(type="log", range=Y_RANGE_LOG, tickvals=y_tickvals,
               showticklabels=False, **axis_common),
)

# y tick labels (10^k), set slightly below their ticks
for k in y_tick_exponents:
    pos = ONE_TICK_LOG if k == 0 else k
    fig.add_annotation(text=f"10<sup>{k}</sup>", xref="paper", yref="y",
                       x=px_to_paper(166, 0)[0], y=pos,
                       xanchor="right", yanchor="middle", yshift=-3,
                       showarrow=False,
                       font=dict(family=FONT, size=YTICK_FONT_SIZE, color="black"))

# the "0" level on the right-hand side of the break
z0 = px_to_paper(PLOT_R, 952)
z1 = px_to_paper(PLOT_R + 23, 952)
fig.add_shape(type="line", xref="paper", yref="paper",
              x0=z0[0], y0=z0[1], x1=z1[0], y1=z1[1],
              line=dict(color="black", width=2.5))
fig.add_annotation(text="0", xref="paper", yref="y",
                   x=px_to_paper(PLOT_R + 43, 0)[0], y=0,
                   xanchor="left", yanchor="middle", showarrow=False,
                   font=dict(family=FONT, size=YTICK_FONT_SIZE, color="black"))

# axis-break slashes on both sides of the frame
slashes = [((182, 954), (219, 933)), ((195, 955), (232, 934)),
           ((1623, 954), (1660, 933)), ((1636, 955), (1673, 934))]
for (p0, p1) in slashes:
    x0, y0 = px_to_paper(*p0)
    x1, y1 = px_to_paper(*p1)
    fig.add_shape(type="line", xref="paper", yref="paper",
                  x0=x0, y0=y0, x1=x1, y1=y1,
                  line=dict(color="black", width=2.5))

# red stroke entering from the right edge
r0 = px_to_paper(1698, 258)
r1 = px_to_paper(1748, 250)
fig.add_shape(type="line", xref="paper", yref="paper",
              x0=r0[0], y0=r0[1], x1=r1[0], y1=r1[1],
              line=dict(color="#ee2211", width=16))

# panel label and axis titles
tx, ty = px_to_paper(263, 132)
fig.add_annotation(text="<b>Posterior predictive</b>", xref="paper", yref="paper",
                   x=tx, y=ty, xanchor="left", yanchor="middle", showarrow=False,
                   font=dict(family=FONT, size=78, color="black"))
ax_, ay_ = px_to_paper(931, 1141)
fig.add_annotation(text="log<sub>10</sub>(M<sub>star</sub>)", xref="paper", yref="paper",
                   x=ax_, y=ay_, xanchor="center", yanchor="middle", showarrow=False,
                   font=dict(family=FONT, size=67, color="black"))
bx_, by_ = px_to_paper(34, 503)
fig.add_annotation(text="M<sub>gcs</sub>", xref="paper", yref="paper",
                   x=bx_, y=by_, xanchor="center", yanchor="middle", showarrow=False,
                   textangle=-90,
                   font=dict(family=FONT, size=67, color="black"))

fig.write_html("out.html")
